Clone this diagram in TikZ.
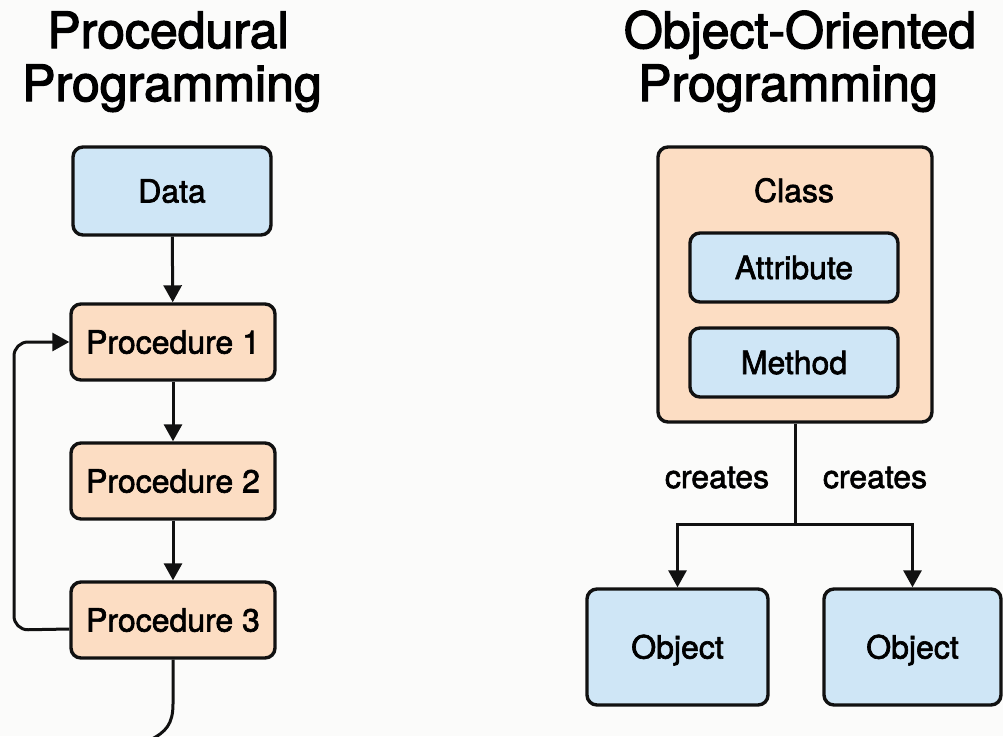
\documentclass[tikz,border=0pt]{standalone}
\usepackage{fontspec}
\setmainfont{TeX Gyre Heros}
\newfontfamily\medfont[FakeBold=2]{TeX Gyre Heros}
\newfontfamily\ttlfont[FakeBold=2.6]{TeX Gyre Heros}
\usetikzlibrary{arrows.meta}
\definecolor{boxblue}{HTML}{CFE6F6}
\definecolor{boxpeach}{HTML}{FCDDC3}
\definecolor{bgcol}{HTML}{FBFBFA}
\definecolor{ink}{HTML}{111111}
\tikzset{
  box/.style={draw=ink, line width=3.4pt, rounded corners=10pt, inner sep=0pt,
     font=\medfont\fontsize{32}{36}\selectfont, text height=23pt, text depth=0pt, anchor=center},
  bluebox/.style={box, fill=boxblue},
  peachbox/.style={box, fill=boxpeach},
  conn/.style={draw=ink, line width=3pt},
  arr/.style={conn, -{Triangle[length=17pt,width=18pt]}},
  ttl/.style={font=\ttlfont\fontsize{50}{55}\selectfont, anchor=base, inner sep=0pt},
  lbl/.style={font=\medfont\fontsize{32}{36}\selectfont, anchor=base, inner sep=0pt},
}
\begin{document}
\begin{tikzpicture}[x=1pt,y=-1pt]
\fill[bgcol] (0,0) rectangle (1003,736);
\useasboundingbox (0,0) rectangle (1003,736);
% titles
\node[ttl] (t1a) at (168,48) {Procedural};
\node[ttl] (t1b) at (172,101) {Programming};
\node[ttl] (t2a) at (800,48) {Object-Oriented};
\node[ttl] (t2b) at (788,101) {Programming};
% left column
\node[bluebox, minimum width=198pt, minimum height=88pt] (data) at (172,191) {Data};
\node[peachbox, minimum width=204pt, minimum height=76pt] (p1) at (173,342) {Procedure 1};
\node[peachbox, minimum width=204pt, minimum height=76pt] (p2) at (173,481) {Procedure 2};
\node[peachbox, minimum width=204pt, minimum height=76pt] (p3) at (173,620) {Procedure 3};
\draw[arr] (data) -- (p1);
\draw[arr] (p1) -- (p2);
\draw[arr] (p2) -- (p3);
\coordinate (loopL) at (14,630);
\draw[arr, rounded corners=14pt] ([yshift=-9pt]p3.west) -- (loopL) -- (loopL |- p1.west) -- (p1.west);
\coordinate (tailend) at (150,740);
\draw[conn] (p3.south) -- (173,704) .. controls (173,724) and (166,732) .. (tailend);
% right column
\node[peachbox, minimum width=274pt, minimum height=275pt] (class) at (795,284.5) {};
\node[lbl] (classlbl) at (794,202) {Class};
\node[bluebox, minimum width=208pt, minimum height=69pt] (attr) at (794,267.5) {Attribute};
\node[bluebox, minimum width=208pt, minimum height=69pt] (meth) at (794,362.5) {Method};
\node[bluebox, minimum width=181pt, minimum height=116pt] (objL) at (677.5,647) {Object};
\node[bluebox, minimum width=177pt, minimum height=116pt] (objR) at (912.5,647) {Object};
\coordinate (junc) at (795,524);
\draw[conn] (class.south) -- (junc);
\draw[arr] (junc) -| (objL.north);
\draw[arr] (junc) -| (objR.north);
\node[lbl] (c1) at (717,488) {creates};
\node[lbl] (c2) at (875,488) {creates};
\end{tikzpicture}
\end{document}
